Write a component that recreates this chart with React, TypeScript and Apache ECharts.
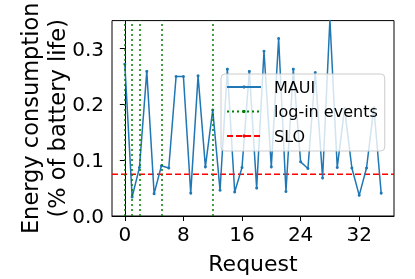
import React, { useEffect, useRef } from "react";
import * as echarts from "echarts";

const requests = [0, 1, 2, 3, 4, 5, 6, 7, 8, 9, 10, 11, 12, 13, 14, 15, 16, 17, 18, 19, 20, 21, 22, 23, 24, 25, 26, 27, 28, 29, 30, 31, 32, 33, 34, 35];
const energy = [0.272, 0.034, 0.087, 0.259, 0.04, 0.09, 0.086, 0.25, 0.25, 0.041, 0.251, 0.088, 0.19, 0.046, 0.263, 0.043, 0.087, 0.259, 0.05, 0.295, 0.088, 0.318, 0.044, 0.263, 0.097, 0.085, 0.257, 0.068, 0.352, 0.087, 0.192, 0.086, 0.037, 0.086, 0.194, 0.041];
const loginEvents = [0, 1, 2, 5, 12];
const sloValue = 0.075;
const xRange = [-1.75, 36.75];
const xTicks = [0, 8, 16, 24, 32];
const yTicks = [0, 0.1, 0.2, 0.3];

const FONT = "DejaVu Sans";

export default function App() {
  const ref = useRef<HTMLDivElement>(null);
  useEffect(() => {
    if (!ref.current) return;
    const chart = echarts.init(ref.current, undefined, { renderer: "svg" });
    chart.setOption({
      animation: false,
      textStyle: { fontFamily: FONT, color: "#000" },
      grid: {
        left: 112,
        top: 7,
        width: 282,
        height: 210,
        show: true,
        borderColor: "#000",
        borderWidth: 1,
        backgroundColor: "transparent",
      },
      xAxis: {
        type: "value",
        min: xRange[0],
        max: xRange[1],
        name: "Request",
        nameLocation: "middle",
        nameGap: 36,
        nameTextStyle: { fontSize: 22, color: "#000", fontFamily: FONT },
        axisLine: { show: true, lineStyle: { color: "#000", width: 1 } },
        axisTick: { show: true, length: 5, customValues: xTicks, lineStyle: { color: "#000" } },
        axisLabel: { fontSize: 20, color: "#000", margin: 8, fontFamily: FONT, customValues: xTicks },
        splitLine: { show: false },
      },
      yAxis: {
        type: "value",
        min: 0,
        max: 0.35,
        name: "Energy consumption\n(% of battery life)",
        nameLocation: "middle",
        nameRotate: 90,
        nameGap: 42,
        nameMoveOverlap: false,
        nameTextStyle: { fontSize: 22.5, color: "#000", lineHeight: 27, fontFamily: FONT },
        axisLine: { show: true, lineStyle: { color: "#000", width: 1 } },
        axisTick: { show: true, length: 5, customValues: yTicks, lineStyle: { color: "#000" } },
        axisLabel: {
          fontSize: 20,
          color: "#000",
          margin: 8,
          fontFamily: FONT,
          customValues: yTicks,
          formatter: (v: number) => v.toFixed(1),
        },
        splitLine: { show: false },
      },
      legend: {
        orient: "vertical",
        left: 221,
        top: 74,
        itemWidth: 34,
        itemHeight: 4,
        itemGap: 4.5,
        padding: [3, 7, 5, 5],
        backgroundColor: "rgba(255,255,255,0.8)",
        borderColor: "#cccccc",
        borderWidth: 1,
        borderRadius: 4,
        textStyle: { fontSize: 16, color: "#000", fontFamily: FONT, lineHeight: 20, padding: [0, 0, 0, 8] },
        data: ["MAUI", "log-in events", "SLO"],
        z: 10,
      },
      series: [
        {
          name: "MAUI",
          type: "line",
          data: requests.map((r, i) => [r, energy[i]]),
          color: "#1f77b4",
          symbol: "circle",
          symbolSize: 3,
          showSymbol: true,
          clip: true,
          lineStyle: { width: 1.5, color: "#1f77b4" },
          itemStyle: { color: "#1f77b4" },
          z: 3,
        },
        {
          name: "log-in events",
          type: "line",
          data: [],
          color: "green",
          symbol: "none",
          lineStyle: { color: "green", type: [2, 3], width: 1.5 },
          markLine: {
            silent: true,
            symbol: "none",
            label: { show: false },
            lineStyle: { color: "green", type: [2, 3], width: 1.5 },
            data: loginEvents.map((x) => ({ xAxis: x })),
          },
          z: 2,
        },
        {
          name: "SLO",
          type: "line",
          data: xRange.map((x) => [x, sloValue]),
          color: "red",
          symbol: "none",
          showSymbol: false,
          lineStyle: { color: "red", type: [6, 3], width: 1.5 },
          z: 2,
        },
      ],
    });
    return () => chart.dispose();
  }, []);
  return (
    <div
      ref={ref}
      style={{ position: "fixed", left: 0, top: 0, width: 415, height: 279 }}
    />
  );
}
